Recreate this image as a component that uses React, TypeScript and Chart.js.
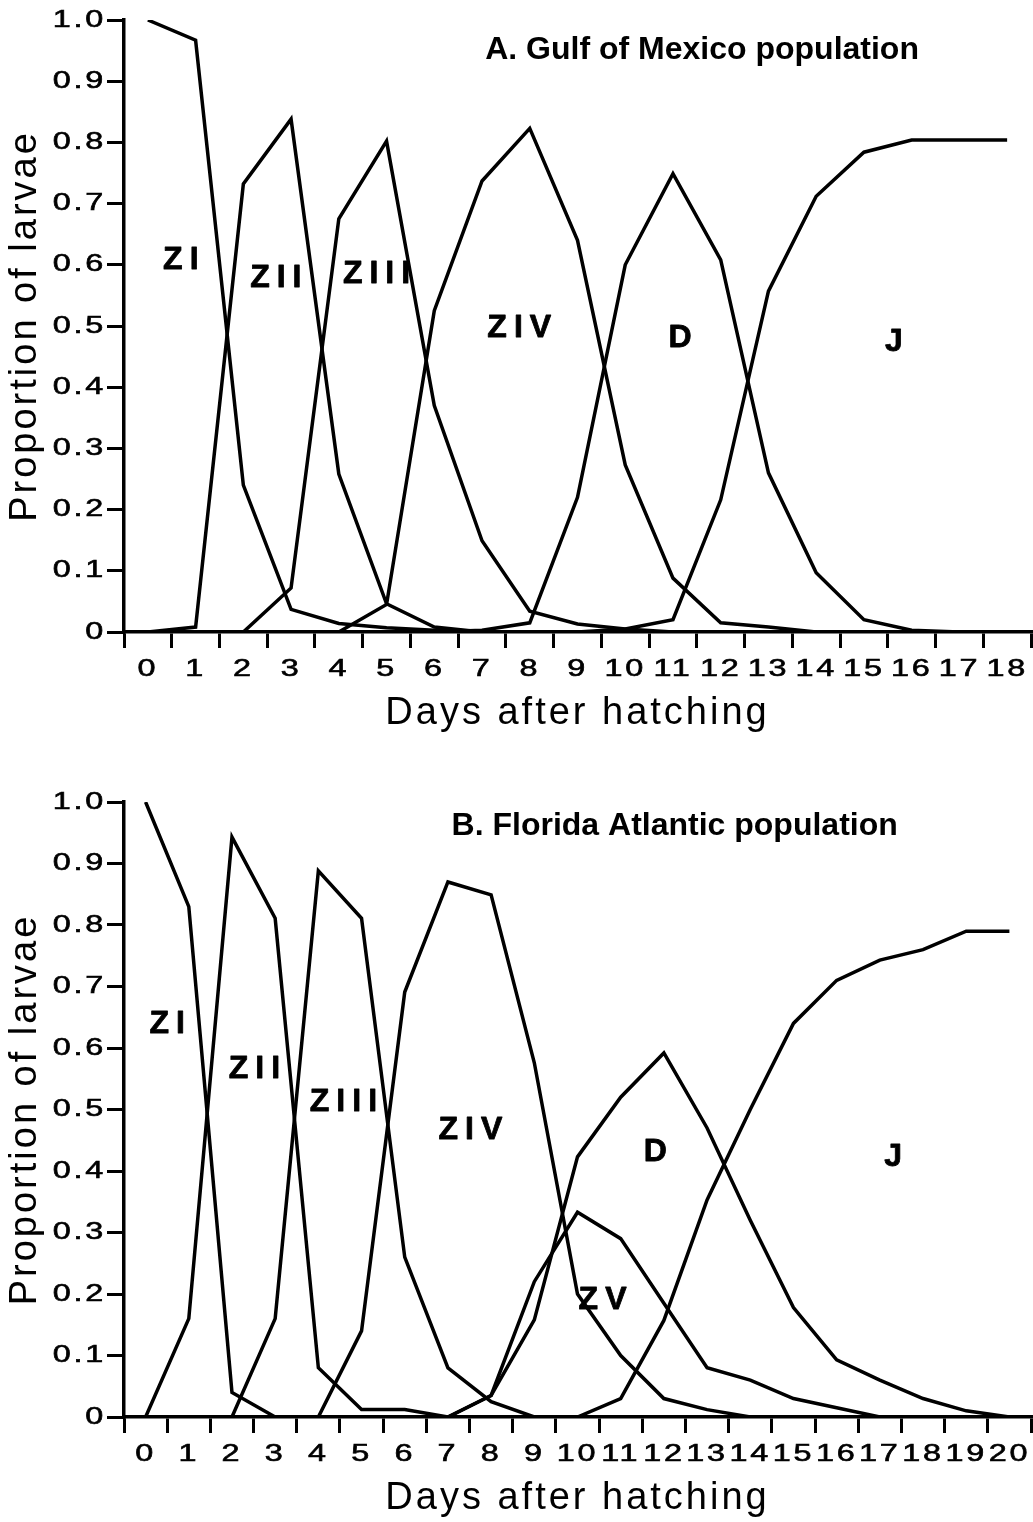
import React, { useEffect, useRef } from 'react';
import { Chart, registerables } from 'chart.js';

Chart.register(...registerables);

// ---------- categories (days after hatching) ----------
const gulfDays = ['0', '1', '2', '3', '4', '5', '6', '7', '8', '9', '10', '11', '12', '13', '14', '15', '16', '17', '18'];
const atlanticDays = ['0', '1', '2', '3', '4', '5', '6', '7', '8', '9', '10', '11', '12', '13', '14', '15', '16', '17', '18', '19', '20'];

// ---------- A. Gulf of Mexico population ----------
const gulfZI = [1.0, 0.967, 0.24, 0.037, 0.014, 0.007, 0.003, 0, null, null, null, null, null, null, null, null, null, null, null];
const gulfZII = [0, 0.008, 0.732, 0.838, 0.258, 0.046, 0.008, 0, null, null, null, null, null, null, null, null, null, null, null];
const gulfZIII = [null, null, 0, 0.072, 0.675, 0.802, 0.37, 0.149, 0.034, 0.013, 0.005, 0, null, null, null, null, null, null, null];
const gulfZIV = [null, null, null, null, 0, 0.045, 0.525, 0.737, 0.823, 0.64, 0.273, 0.088, 0.015, 0.008, 0, null, null, null, null];
const gulfD = [null, null, null, null, null, null, 0, 0.003, 0.015, 0.22, 0.6, 0.749, 0.608, 0.26, 0.097, 0.02, 0.003, 0, 0];
const gulfJ = [null, null, null, null, null, null, null, null, null, 0, 0.005, 0.02, 0.216, 0.557, 0.712, 0.784, 0.804, 0.804, 0.804];

// ---------- B. Florida Atlantic population ----------
const atlZI = [1.0, 0.83, 0.04, 0, null, null, null, null, null, null, null, null, null, null, null, null, null, null, null, null, null];
const atlZII = [0, 0.16, 0.943, 0.811, 0.08, 0.012, 0.012, 0, null, null, null, null, null, null, null, null, null, null, null, null, null];
const atlZIII = [null, null, 0, 0.16, 0.888, 0.811, 0.26, 0.08, 0.025, 0, null, null, null, null, null, null, null, null, null, null, null];
const atlZIV = [null, null, null, null, 0, 0.14, 0.691, 0.87, 0.849, 0.576, 0.2, 0.1, 0.03, 0.012, 0, null, null, null, null, null, null];
const atlZV = [null, null, null, null, null, null, null, 0, 0.035, 0.22, 0.333, 0.29, 0.185, 0.08, 0.06, 0.03, 0.015, 0, null, null, null];
const atlD = [null, null, null, null, null, null, null, 0, 0.035, 0.158, 0.423, 0.52, 0.592, 0.47, 0.32, 0.178, 0.093, 0.06, 0.03, 0.01, 0];
const atlJ = [null, null, null, null, null, null, null, null, null, null, 0, 0.03, 0.157, 0.353, 0.5, 0.64, 0.71, 0.743, 0.76, 0.79, 0.79];

// ---------- text ----------
const gulfTitle = 'A. Gulf of Mexico population';
const atlanticTitle = 'B. Florida Atlantic population';
const xAxisTitle = 'Days after hatching';
const yAxisTitle = 'Proportion of larvae';

// stage labels, placed in data units (day, proportion)
const gulfStageLabels = [
  { text: 'ZI', day: 0.69, value: 0.608 },
  { text: 'ZII', day: 2.68, value: 0.578 },
  { text: 'ZIII', day: 4.79, value: 0.585 },
  { text: 'ZIV', day: 7.78, value: 0.497 },
  { text: 'D', day: 11.15, value: 0.48 },
  { text: 'J', day: 15.63, value: 0.474 },
];
const atlanticStageLabels = [
  { text: 'ZI', day: 0.5, value: 0.639 },
  { text: 'ZII', day: 2.52, value: 0.566 },
  { text: 'ZIII', day: 4.58, value: 0.512 },
  { text: 'ZIV', day: 7.52, value: 0.467 },
  { text: 'ZV', day: 10.58, value: 0.19 },
  { text: 'D', day: 11.8, value: 0.431 },
  { text: 'J', day: 17.31, value: 0.423 },
];
const gulfTitlePos = { day: 11.61, value: 0.951 };
const atlanticTitlePos = { day: 12.25, value: 0.961 };

const FAMILY = '"Liberation Sans", Arial, Helvetica, sans-serif';
const TICK_SPACING = '2px';
const TICK_STRETCH = 1.35;
const TITLE_SPACING = '3px';

function drawSpacedText(ctx: any, text: string, x: number, y: number, font: string, spacing: number, stretch: number, stroke: number) {
  ctx.save();
  ctx.font = font;
  ctx.letterSpacing = '0px';
  const base = ctx.measureText(text).width;
  const w = base + spacing * (text.length - 1);
  ctx.letterSpacing = spacing + 'px';
  ctx.translate(x, y);
  ctx.scale(stretch, 1);
  ctx.textAlign = 'left';
  ctx.textBaseline = 'middle';
  ctx.fillStyle = '#000';
  ctx.fillText(text, -w / 2, 0);
  if (stroke > 0) {
    ctx.strokeStyle = '#000';
    ctx.lineWidth = stroke;
    ctx.lineJoin = 'round';
    ctx.strokeText(text, -w / 2, 0);
  }
  ctx.restore();
}

type PanelProps = {
  categories: string[];
  series: { name: string; data: (number | null)[] }[];
  stageLabels: { text: string; day: number; value: number }[];
  title: string;
  titlePos: { day: number; value: number };
  top: number;
  height: number;
  padTop: number;
  axisHeight: number;
  xTitlePad: number;
};

function Panel(props: PanelProps) {
  const ref = useRef<HTMLCanvasElement | null>(null);
  useEffect(() => {
    const canvas = ref.current;
    if (!canvas) return;
    const textPlugin = {
      id: 'textPlugin',
      beforeDraw(chart: any) {
        chart.ctx.letterSpacing = TITLE_SPACING;
      },
      beforeDatasetsDraw(chart: any) {
        chart.ctx.letterSpacing = '0px';
      },
      afterDatasetsDraw(chart: any) {
        // tick labels (drawn after the datasets, z = 1) use a wide, spaced face
        const ctx = chart.ctx;
        ctx.letterSpacing = TICK_SPACING;
        const origFill = CanvasRenderingContext2D.prototype.fillText;
        const origStroke = CanvasRenderingContext2D.prototype.strokeText;
        ctx.fillText = function (text: string, x: number, y: number) {
          this.save();
          this.translate(x, y);
          this.scale(TICK_STRETCH, 1);
          origFill.call(this, text, 0, 0);
          this.restore();
        };
        ctx.strokeText = function (text: string, x: number, y: number) {
          this.save();
          this.translate(x, y);
          this.scale(TICK_STRETCH, 1);
          origStroke.call(this, text, 0, 0);
          this.restore();
        };
      },
      afterDraw(chart: any) {
        const ctx = chart.ctx;
        delete ctx.fillText;
        delete ctx.strokeText;
        const xs = chart.scales.x;
        const ys = chart.scales.y;
        ctx.letterSpacing = '0px';
        for (const l of props.stageLabels) {
          drawSpacedText(ctx, l.text, xs.getPixelForValue(l.day), ys.getPixelForValue(l.value), 'bold 32px ' + FAMILY, 7, 1, 0.8);
        }
        drawSpacedText(ctx, props.title, xs.getPixelForValue(props.titlePos.day), ys.getPixelForValue(props.titlePos.value), 'bold 32px ' + FAMILY, 0, 1, 0);
        ctx.letterSpacing = '0px';
      },
    };
    const tickFont = { family: FAMILY, size: 24 };
    const titleFont = { family: FAMILY, size: 38 };
    const chart = new Chart(canvas, {
      type: 'line',
      data: {
        labels: props.categories,
        datasets: props.series.map((s) => ({
          label: s.name,
          data: s.data,
          borderColor: '#000',
          backgroundColor: '#000',
          borderWidth: 3.5,
          pointRadius: 0,
          fill: false,
          tension: 0,
          spanGaps: false,
        })),
      },
      options: {
        responsive: false,
        animation: false,
        events: [],
        layout: { padding: { top: props.padTop, right: 2, left: 0, bottom: 0 } },
        plugins: {
          legend: { display: false },
          tooltip: { enabled: false },
          title: { display: false },
        },
        scales: {
          x: {
            type: 'category',
            offset: true,
            grid: {
              offset: true,
              drawOnChartArea: false,
              drawTicks: true,
              tickLength: 16,
              tickWidth: 3,
              lineWidth: 3,
              tickColor: '#000',
              color: '#000',
            },
            border: { display: true, color: '#000', width: 3.5 },
            ticks: {
              autoSkip: false,
              maxRotation: 0,
              minRotation: 0,
              padding: 7,
              color: '#000',
              font: tickFont,
              textStrokeColor: '#000',
              textStrokeWidth: 0.6,
              z: 1,
            },
            title: {
              display: true,
              text: xAxisTitle,
              color: '#000',
              font: titleFont,
              padding: { top: 0, bottom: props.xTitlePad },
            },
            afterFit: (s: any) => {
              s.height = props.axisHeight;
            },
          },
          y: {
            type: 'linear',
            min: 0,
            max: 1,
            grid: {
              drawOnChartArea: false,
              drawTicks: true,
              tickLength: 17,
              tickWidth: 3,
              lineWidth: 3,
              tickColor: '#000',
              color: '#000',
            },
            border: { display: true, color: '#000', width: 3.5 },
            ticks: {
              stepSize: 0.1,
              padding: 1,
              color: '#000',
              font: tickFont,
              textStrokeColor: '#000',
              textStrokeWidth: 0.6,
              z: 1,
              callback: (v: any) => (Number(v) === 0 ? '0' : Number(v).toFixed(1)),
            },
            title: {
              display: true,
              text: yAxisTitle,
              color: '#000',
              font: titleFont,
              padding: { top: 3, bottom: 0 },
            },
            afterFit: (s: any) => {
              s.width = 124;
            },
          },
        },
      } as any,
      plugins: [textPlugin],
    });
    return () => {
      chart.destroy();
    };
  }, []);
  return (
    <div style={{ position: 'absolute', left: 0, top: props.top, width: 1033, height: props.height }}>
      <canvas ref={ref} width={1033} height={props.height} style={{ display: 'block', width: 1033, height: props.height }} />
    </div>
  );
}

export default function App() {
  return (
    <div style={{ position: 'absolute', left: 0, top: 0, width: 1033, height: 1522, background: '#fff' }}>
      <Panel
        categories={gulfDays}
        series={[
          { name: 'ZI', data: gulfZI },
          { name: 'ZII', data: gulfZII },
          { name: 'ZIII', data: gulfZIII },
          { name: 'ZIV', data: gulfZIV },
          { name: 'D', data: gulfD },
          { name: 'J', data: gulfJ },
        ]}
        stageLabels={gulfStageLabels}
        title={gulfTitle}
        titlePos={gulfTitlePos}
        top={0}
        height={760}
        padTop={20}
        axisHeight={128}
        xTitlePad={24}
      />
      <Panel
        categories={atlanticDays}
        series={[
          { name: 'ZI', data: atlZI },
          { name: 'ZII', data: atlZII },
          { name: 'ZIII', data: atlZIII },
          { name: 'ZIV', data: atlZIV },
          { name: 'ZV', data: atlZV },
          { name: 'D', data: atlD },
          { name: 'J', data: atlJ },
        ]}
        stageLabels={atlanticStageLabels}
        title={atlanticTitle}
        titlePos={atlanticTitlePos}
        top={760}
        height={762}
        padTop={42}
        axisHeight={105}
        xTitlePad={1}
      />
    </div>
  );
}
